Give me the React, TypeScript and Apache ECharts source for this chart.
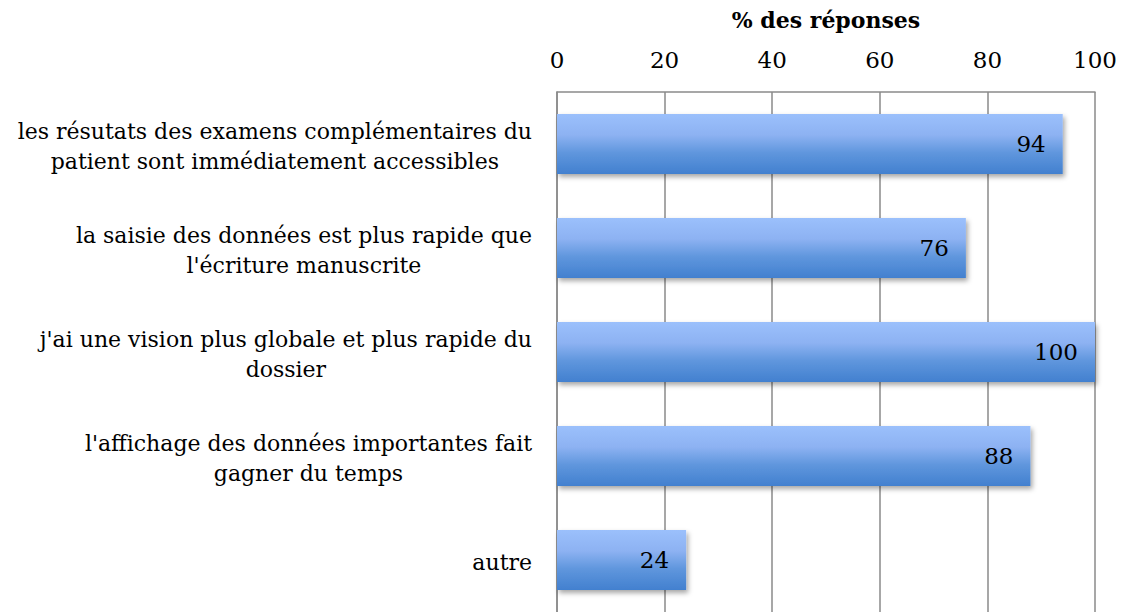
import React, { useEffect, useRef } from "react";
import * as echarts from "echarts";

const categories = [
  "les résutats des examens complémentaires du\npatient sont immédiatement accessibles",
  "la saisie des données est plus rapide que\nl'écriture manuscrite",
  "j'ai une vision plus globale et plus rapide du\ndossier",
  "l'affichage des données importantes fait\ngagner du temps",
  "autre",
];
const values = [94, 76, 100, 88, 24];
const axisTitle = "% des réponses";
const FONT = "DejaVu Serif";

export default function App() {
  const ref = useRef<HTMLDivElement>(null);
  useEffect(() => {
    const chart = echarts.init(ref.current!, null, { renderer: "svg" });
    chart.setOption({
      animation: false,
      backgroundColor: "#ffffff",
      grid: {
        left: 557,
        right: 27,
        top: 92,
        bottom: 0,
        containLabel: false,
        outerBoundsMode: "none",
      },
      xAxis: {
        type: "value",
        position: "top",
        min: 0,
        max: 100,
        interval: 20,
        name: axisTitle,
        nameLocation: "middle",
        nameGap: 61,
        nameTextStyle: { fontFamily: FONT, fontSize: 22, fontWeight: "bold", color: "#000" },
        axisLine: { show: true, lineStyle: { color: "#8a8a8a", width: 1.5 } },
        axisTick: { show: false },
        axisLabel: { fontFamily: FONT, fontSize: 23, color: "#000", margin: 21 },
        splitLine: { show: true, lineStyle: { color: "#8a8a8a", width: 1.5 } },
      },
      yAxis: {
        type: "category",
        inverse: true,
        data: categories,
        axisLine: { show: true, lineStyle: { color: "#8a8a8a", width: 1.5 } },
        axisTick: { show: false },
        axisLabel: {
          margin: 25,
          align: "right",
          lineHeight: 30,
          fontFamily: FONT,
          fontSize: 22,
          color: "#000",
          padding: [4, 0, 0, 0],
          formatter: (v: string) =>
            v.split("\n").map((l) => "{c|" + l + "}").join("\n"),
          rich: {
            c: { align: "center", fontFamily: FONT, fontSize: 22, lineHeight: 30, color: "#000" },
          },
        },
      },
      series: [
        {
          type: "bar",
          data: values,
          barWidth: 60,
          itemStyle: {
            color: new echarts.graphic.LinearGradient(0, 0, 0, 1, [
              { offset: 0, color: "#9bc0fc" },
              { offset: 0.35, color: "#8db2f2" },
              { offset: 0.65, color: "#5f96dd" },
              { offset: 1, color: "#4280cf" },
            ]),
            shadowColor: "rgba(0,0,0,0.35)",
            shadowBlur: 5,
            shadowOffsetX: 2,
            shadowOffsetY: 3,
          },
          label: {
            show: true,
            position: "insideRight",
            distance: 17,
            fontFamily: FONT,
            fontSize: 23,
            color: "#000",
          },
        },
      ],
    });
    return () => chart.dispose();
  }, []);
  return (
    <div
      ref={ref}
      style={{ position: "fixed", left: 0, top: 0, width: 1122, height: 612 }}
    />
  );
}
